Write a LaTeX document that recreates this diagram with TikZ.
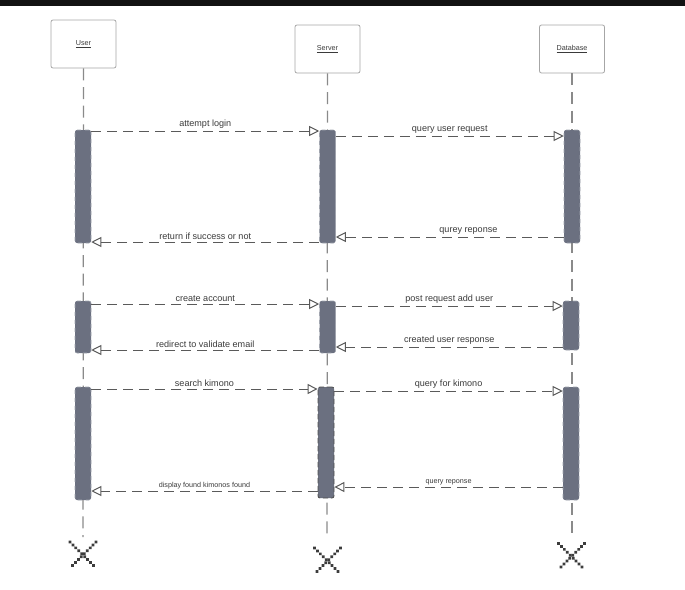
\documentclass[tikz,border=0pt]{standalone}
\usepackage{fontspec}
\setmainfont{Liberation Sans}
\usetikzlibrary{arrows.meta,calc}
\definecolor{actfill}{HTML}{6B7080}
\definecolor{actedge}{HTML}{A0A4AE}
\definecolor{msgcol}{HTML}{5A5A5A}
\definecolor{txtcol}{HTML}{3A3A3A}
\definecolor{lifecol}{HTML}{8A8A8A}
\definecolor{xcol}{HTML}{3C3C3C}
\tikzset{
  objbox/.style={draw=gray!70, line width=0.6pt, rounded corners=1.5pt, fill=white,
    minimum width=48.75pt, minimum height=36pt, inner sep=0pt, font=\fontsize{5.4}{6}\selectfont, text=txtcol},
  life/.style={draw=lifecol, line width=0.9pt, dash pattern=on 9pt off 5pt},
  act/.style={fill=actfill, draw=actedge, dashed, line width=0.4pt, rounded corners=1.5pt,
    minimum width=12pt, inner sep=0pt},
  msg/.style={draw=msgcol, line width=0.75pt, dash pattern=on 7.5pt off 4.5pt,
    -{Triangle[open, length=7.5pt, width=7.5pt, line width=0.75pt, fill=white]}},
  lbl/.style={above, inner sep=1.5pt, font=\fontsize{6.8}{8}\selectfont, text=txtcol},
  slbl/.style={above, inner sep=1.5pt, font=\fontsize{5.4}{6.5}\selectfont, text=txtcol},
  xmark/.style={draw=xcol, line width=2.9pt, line cap=round, dash pattern=on 0.01pt off 3.1pt},
}
\begin{document}
\begin{tikzpicture}[x=0.75pt,y=-0.75pt]
\useasboundingbox (0,0) rectangle (685,589);
\fill[black!93] (0,0) rectangle (685,6);
% objects
\node[objbox] (user) at (83.5,44) {\underline{User}};
\node[objbox] (server) at (327.5,49) {\underline{Server}};
\node[objbox] (db) at (572,49) {\underline{Database}};
% lifeline ends
\coordinate (uend) at (83,537);
\coordinate (send) at (327,540);
\coordinate (dend) at (572,537);
\draw[life] (user.south) -- (uend);
\draw[life] (server.south) -- (send);
\draw[life] (db.south) -- (dend);
% activations
\node[act, minimum height=84.75pt] (ua1) at (83,186.5) {};
\node[act, minimum height=84.75pt] (sa1) at (327.5,186.5) {};
\node[act, minimum height=84.75pt] (da1) at (572,186.5) {};
\node[act, minimum height=39pt] (ua2) at (83,327) {};
\node[act, minimum height=39pt] (sa2) at (327.5,327) {};
\node[act, minimum height=36.75pt] (da2) at (571,325.5) {};
\node[act, minimum height=84.75pt] (ua3) at (83,443.5) {};
\node[act, minimum height=83.25pt, draw=black!70, dash pattern=on 4pt off 2pt, line width=0.6pt] (sa3) at (326,442.5) {};
\node[act, minimum height=84.75pt] (da3) at (571,443.5) {};
% messages block 1
\draw[msg] (ua1.east |- 0,131) -- (sa1.west |- 0,131) node[lbl, midway] {attempt login};
\draw[msg] (sa1.east |- 0,136) -- (da1.west |- 0,136) node[lbl, midway] {query user request};
\draw[msg] (da1.west |- 0,237) -- (sa1.east |- 0,237) node[lbl, midway, xshift=14pt] {qurey reponse};
\draw[msg] (sa1.west |- 0,242) -- (ua1.east |- 0,242) node[lbl, midway] {return if success or not};
% messages block 2
\draw[msg] (ua2.east |- 0,304) -- (sa2.west |- 0,304) node[lbl, midway] {create account};
\draw[msg] (sa2.east |- 0,306) -- (da2.west |- 0,306) node[lbl, midway] {post request add user};
\draw[msg] (da2.west |- 0,347) -- (sa2.east |- 0,347) node[lbl, midway] {created user response};
\draw[msg] (sa2.west |- 0,350) -- (ua2.east |- 0,350) node[lbl, midway] {redirect to validate email};
% messages block 3
\draw[msg] (ua3.east |- 0,389) -- (sa3.west |- 0,389) node[lbl, midway] {search kimono};
\draw[msg] (sa3.east |- 0,391) -- (da3.west |- 0,391) node[lbl, midway] {query for kimono};
\draw[msg] (da3.west |- 0,487) -- (sa3.east |- 0,487) node[slbl, midway] {query reponse};
\draw[msg] (sa3.west |- 0,491) -- (ua3.east |- 0,491) node[slbl, midway] {display found kimonos found};
% destruction marks
\coordinate (ux) at (83,555);
\coordinate (sx) at (327.5,561);
\coordinate (dx) at (571.5,556.5);
\foreach \c in {ux,sx,dx}{
  \draw[xmark] ($(\c)+(-13,-13)$) -- ($(\c)+(13,13)$);
  \draw[xmark] ($(\c)+(13,-13)$) -- ($(\c)+(-13,13)$);
}
\end{tikzpicture}
\end{document}
